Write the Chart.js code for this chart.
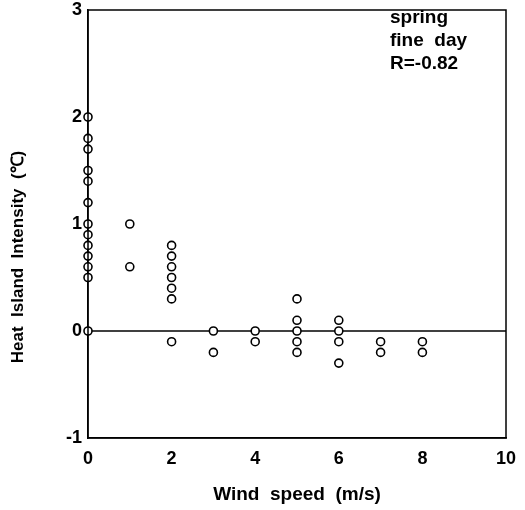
<!DOCTYPE html>
<html>
<head>
<meta charset="utf-8">
<script src="https://cdn.jsdelivr.net/npm/chart.js@4"></script>
<style>
html,body{margin:0;padding:0;background:#fff;}
#wrap{width:525px;height:510px;}
</style>
</head>
<body>
<div id="wrap"><canvas id="c" width="525" height="510"></canvas></div>
<script>
// Wind speed (m/s) for each observation
const windSpeed = [
  0,0,0,0,0,0,0,0,0,0,0,0,0,
  1,1,
  2,2,2,2,2,2,2,
  3,3,
  4,4,
  5,5,5,5,5,
  6,6,6,6,
  7,7,
  8,8
];
// Heat island intensity (°C) for each observation
const heatIntensity = [
  2.0,1.8,1.7,1.5,1.4,1.2,1.0,0.9,0.8,0.7,0.6,0.5,0.0,
  1.0,0.6,
  0.8,0.7,0.6,0.5,0.4,0.3,-0.1,
  0.0,-0.2,
  0.0,-0.1,
  0.3,0.1,0.0,-0.1,-0.2,
  0.1,0.0,-0.1,-0.3,
  -0.1,-0.2,
  -0.1,-0.2
];
const zeroLineX = [0, 10];
const zeroLineY = [0, 0];
const xTicks = [0, 2, 4, 6, 8, 10];
const yTicks = [-1, 0, 1, 2, 3];
const annotationLines = ["spring", "fine  day", "R=-0.82"];
const yTitle = "Heat  Island  Intensity  (℃)";
const xTitle = "Wind  speed  (m/s)";

const FONT = "'Liberation Sans', Arial, sans-serif";

const framePlugin = {
  id: 'frame',
  afterDatasetsDraw(chart) {
    const a = chart.chartArea, ctx = chart.ctx;
    ctx.save();
    ctx.strokeStyle = '#000';
    ctx.lineWidth = 1.5;
    ctx.strokeRect(a.left, a.top, a.right - a.left, a.bottom - a.top);
    ctx.fillStyle = '#000';
    ctx.font = 'bold 19px ' + FONT;
    ctx.textBaseline = 'top';
    ctx.textAlign = 'left';
    annotationLines.forEach((t, i) => ctx.fillText(t, 390, 8 + i * 23));
    // y-axis title
    ctx.font = 'bold 17px ' + FONT;
    ctx.translate(18, 257);
    ctx.rotate(-Math.PI / 2);
    ctx.textAlign = 'center';
    ctx.textBaseline = 'middle';
    ctx.fillText(yTitle, 0, 0);
    ctx.restore();
  }
};

new Chart(document.getElementById('c'), {
  type: 'scatter',
  data: {
    datasets: [
      {
        type: 'line',
        data: zeroLineX.map((x, i) => ({x: x, y: zeroLineY[i]})),
        borderColor: '#000',
        borderWidth: 1.5,
        pointRadius: 0,
        fill: false,
        order: 2
      },
      {
        data: windSpeed.map((x, i) => ({x: x, y: heatIntensity[i]})),
        pointRadius: 4,
        pointBorderWidth: 1.6,
        pointBorderColor: '#000',
        pointBackgroundColor: '#fff',
        showLine: false,
        clip: false,
        order: 1
      }
    ]
  },
  plugins: [framePlugin],
  options: {
    responsive: false,
    animation: false,
    layout: {padding: {top: 10, right: 19, left: 0, bottom: 0}},
    plugins: {legend: {display: false}, tooltip: {enabled: false}},
    scales: {
      x: {
        type: 'linear',
        min: 0, max: 10,
        afterBuildTicks(s) { s.ticks = xTicks.map(v => ({value: v})); },
        afterFit(s) { s.height = 72; s.paddingLeft = 0; s.paddingRight = 0; },
        grid: {display: false, drawTicks: false},
        border: {display: true, color: '#000', width: 1.5},
        ticks: {color: '#000', font: {family: FONT, size: 18, weight: 'bold'}, padding: 10, maxRotation: 0},
        title: {display: true, text: xTitle, color: '#000', font: {family: FONT, size: 19, weight: 'bold'}, padding: {top: 0, bottom: 4}}
      },
      y: {
        type: 'linear',
        min: -1, max: 3,
        afterBuildTicks(s) { s.ticks = yTicks.map(v => ({value: v})); },
        afterFit(s) { s.width = 88; s.paddingTop = 0; s.paddingBottom = 0; },
        grid: {display: false, drawTicks: false},
        border: {display: true, color: '#000', width: 1.5},
        ticks: {color: '#000', font: {family: FONT, size: 18, weight: 'bold'}, padding: 6},
        title: {display: false}
      }
    }
  }
});
</script>
</body>
</html>
